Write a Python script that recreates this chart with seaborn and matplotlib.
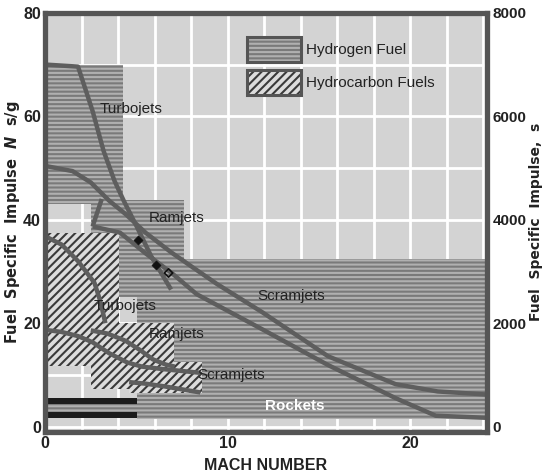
import numpy as np
import pandas as pd
import seaborn as sns
import matplotlib
matplotlib.use("Agg")
import matplotlib.pyplot as plt
from matplotlib.patches import Patch

# ---------------- data ----------------
X_TICKS = [0, 10, 20]
Y_TICKS = [0, 20, 40, 60, 80]
Y2_TICKS = [0, 2000, 4000, 6000, 8000]

# hydrogen-fuel regions (Mach span, Isp span N s/g)
H2_TURBO_X, H2_TURBO_Y = [0.0, 4.25], [43.0, 70.0]
H2_RAM_X, H2_RAM_Y = [2.5, 7.6], [25.1, 43.8]
H2_SCRAM_X, H2_SCRAM_Y = [5.05, 24.2], [1.5, 32.4]
# hydrocarbon-fuel regions
HC_TURBO_X, HC_TURBO_Y = [0.0, 4.05], [11.7, 37.4]
HC_RAM_X, HC_RAM_Y = [2.5, 7.05], [7.2, 20.1]
HC_SCRAM_X, HC_SCRAM_Y = [4.6, 8.6], [6.5, 12.5]
# rockets
ROCKET_X, ROCKET_Y = [0.0, 24.2], [1.7, 5.5]
ROCKET_DARK_X = [0.0, 5.05]
ROCKET_DARK_Y1, ROCKET_DARK_Y2 = [4.4, 5.5], [1.7, 2.9]

# hydrogen performance curves
H2_C1_X = [0, 1.8, 2.6, 3.2, 3.8, 4.3, 5.0, 5.8, 6.9]
H2_C1_Y = [70, 69.6, 61, 53.3, 47.5, 43.7, 38.8, 33, 26.5]
H2_C2_X = [0, 1.5, 2.5, 3.5, 4.4, 5.5, 6.9, 8.0, 9.4, 11.9, 15.5, 19.2, 21.5, 24.2]
H2_C2_Y = [50.4, 49.4, 47.2, 43.7, 41.1, 37.5, 33.7, 31.0, 27.6, 22.1, 13.6, 8.2, 6.8, 6.2]
H2_C3_X = [3.1, 2.6]
H2_C3_Y = [44.0, 38.7]
H2_C4_X = [2.6, 4.1, 5.5, 7.0, 8.3, 11.9, 15.5, 19.2, 21.4, 24.2]
H2_C4_Y = [38.7, 37.5, 33.5, 29.5, 25.6, 18.8, 11.9, 5.5, 2.1, 1.7]

# hydrocarbon performance curves
HC_C1_X = [0, 0.9, 1.8, 2.7, 3.0, 3.3]
HC_C1_Y = [36.8, 35.2, 32.0, 27.8, 24.5, 20.0]
HC_C2_X = [0, 0.9, 1.8, 2.6, 3.5, 4.5, 5.3, 6.5, 8.5]
HC_C2_Y = [18.7, 18.3, 17.5, 16.3, 14.2, 12.4, 11.6, 11.1, 10.4]
HC_C3_X = [2.5, 3.4, 4.4, 5.2, 5.9, 6.6, 7.1]
HC_C3_Y = [18.6, 18.0, 16.6, 14.8, 13.0, 12.0, 11.6]
HC_C4_X = [4.6, 5.5, 6.5, 7.5, 8.5]
HC_C4_Y = [8.6, 8.3, 7.8, 7.2, 6.6]

# data points
PT_FILLED_X, PT_FILLED_Y = [5.07, 6.07], [36.1, 31.3]
PT_OPEN_X, PT_OPEN_Y = [6.76], [29.7]

LABELS = ["Turbojets", "Ramjets", "Scramjets", "Turbojets", "Ramjets", "Scramjets", "Rockets"]
LABEL_X = [4.7, 7.2, 13.5, 4.4, 7.2, 10.2, 13.7]
LABEL_Y = [61.5, 40.3, 25.2, 23.4, 18.0, 10.0, 4.0]
LEGEND_LABELS = ["Hydrogen Fuel", "Hydrocarbon Fuels"]

# ---------------- style ----------------
sns.set_theme(style="white")
plt.rcParams["font.family"] = ["Liberation Sans", "DejaVu Sans"]
plt.rcParams["hatch.linewidth"] = 1.5
plt.rcParams["mathtext.fontset"] = "custom"
plt.rcParams["mathtext.it"] = "DejaVu Sans:italic:bold"
plt.rcParams["mathtext.rm"] = "DejaVu Sans:bold"

BG = "#d3d3d3"
H2_FACE, H2_HATCH = "#7a7a7a", "#b0b0b0"
HC_FACE, HC_HATCH = "#dcdcdc", "#3a3a3a"
LINE = "#5e5e5e"
FRAME = "#555555"
TXT = "#222222"

fig = plt.figure(figsize=(5.44, 4.75), dpi=100)
ax = fig.add_axes([0.083, 0.091, 0.812, 0.882])
ax.set_facecolor(BG)
ax.set_xlim(0, 24.2)
ax.set_ylim(-1.0, 80)

ax.set_xticks(X_TICKS)
ax.set_xticks(np.arange(0, 25, 2), minor=True)
ax.set_yticks(Y_TICKS)
ax.set_yticks(np.arange(0, 81, 10), minor=True)
ax.grid(which="both", color="white", lw=2.0)
ax.set_axisbelow(True)
ax.tick_params(which="both", length=0, pad=3, labelsize=11.5, colors=TXT)
for lab in ax.get_xticklabels() + ax.get_yticklabels():
    lab.set_fontweight("bold")

def box(xs, ys, face, hcol, hatch, z):
    ax.fill_between(xs, ys[0], ys[1], facecolor=face, edgecolor=hcol,
                    hatch=hatch, linewidth=0, zorder=z)

box(H2_TURBO_X, H2_TURBO_Y, H2_FACE, H2_HATCH, "----", 1)
box(H2_RAM_X, H2_RAM_Y, H2_FACE, H2_HATCH, "----", 1)
box(H2_SCRAM_X, H2_SCRAM_Y, H2_FACE, H2_HATCH, "----", 1)
box(ROCKET_X, ROCKET_Y, H2_FACE, H2_HATCH, "----", 1.2)
ax.fill_between(ROCKET_DARK_X, ROCKET_DARK_Y1[0], ROCKET_DARK_Y1[1], color="#1c1c1c", lw=0, zorder=1.3)
ax.fill_between(ROCKET_DARK_X, ROCKET_DARK_Y2[0], ROCKET_DARK_Y2[1], color="#1c1c1c", lw=0, zorder=1.3)
box(HC_TURBO_X, HC_TURBO_Y, HC_FACE, HC_HATCH, "////", 2)
box(HC_RAM_X, HC_RAM_Y, HC_FACE, HC_HATCH, "////", 2)
box(HC_SCRAM_X, HC_SCRAM_Y, HC_FACE, HC_HATCH, "////", 2)

curves = [(H2_C1_X, H2_C1_Y), (H2_C2_X, H2_C2_Y), (H2_C3_X, H2_C3_Y), (H2_C4_X, H2_C4_Y),
          (HC_C1_X, HC_C1_Y), (HC_C2_X, HC_C2_Y), (HC_C3_X, HC_C3_Y), (HC_C4_X, HC_C4_Y)]
for cx, cy in curves:
    sns.lineplot(x=cx, y=cy, sort=False, estimator=None, ax=ax, color=LINE,
                 lw=3.2, zorder=5, legend=False, solid_capstyle="butt")

sns.scatterplot(x=PT_FILLED_X, y=PT_FILLED_Y, ax=ax, marker="D", s=22, color="#111111",
                edgecolor="#111111", zorder=6, legend=False)
sns.scatterplot(x=PT_OPEN_X, y=PT_OPEN_Y, ax=ax, marker="D", s=18, facecolor="none",
                edgecolor="#111111", linewidth=1.2, zorder=6, legend=False)

for t, lx, ly in zip(LABELS, LABEL_X, LABEL_Y):
    ax.text(lx, ly, t, ha="center", va="center", fontsize=11,
            color="white" if t == "Rockets" else TXT, zorder=7,
            fontweight="bold" if t == "Rockets" else "normal")

ax.set_xlabel("MACH NUMBER", fontsize=11.5, fontweight="bold", color=TXT)
ax.xaxis.set_label_coords(0.5, -0.062)
ax.set_ylabel("Fuel  Specific  Impulse  $N$  s/g", fontsize=10.5, fontweight="bold",
              family="DejaVu Sans", color=TXT)
ax.yaxis.set_label_coords(-0.053, 0.5)

for sp in ax.spines.values():
    sp.set_color(FRAME)
    sp.set_linewidth(3.8)
    sp.set_zorder(8)

ax2 = ax.twinx()
ax2.set_ylim(-100, 8000)
ax2.set_yticks(Y2_TICKS)
ax2.tick_params(length=0, pad=4, labelsize=11, colors=TXT)
for lab in ax2.get_yticklabels():
    lab.set_fontweight("bold")
for sp in ax2.spines.values():
    sp.set_visible(False)
ax2.grid(False)
ax2.set_ylabel("Fuel  Specific  Impulse,  s", fontsize=10, fontweight="bold",
               family="DejaVu Sans", color=TXT)
ax2.yaxis.set_label_coords(1.096, 0.5)

handles = [
    (Patch(facecolor=H2_FACE, edgecolor=H2_HATCH, hatch="----", lw=0),
     Patch(fill=False, edgecolor=FRAME, lw=2.2)),
    (Patch(facecolor=HC_FACE, edgecolor=HC_HATCH, hatch="////", lw=0),
     Patch(fill=False, edgecolor=FRAME, lw=2.2)),
]
leg = ax.legend(handles, LEGEND_LABELS, loc="upper left", bbox_to_anchor=(0.44, 0.96),
                frameon=False, handlelength=3.5, handleheight=2.1, labelspacing=0.55,
                handletextpad=0.35, borderpad=0, prop={"size": 11})
for t in leg.get_texts():
    t.set_color(TXT)
leg.set_zorder(9)

fig.savefig("out.png", dpi=100)
